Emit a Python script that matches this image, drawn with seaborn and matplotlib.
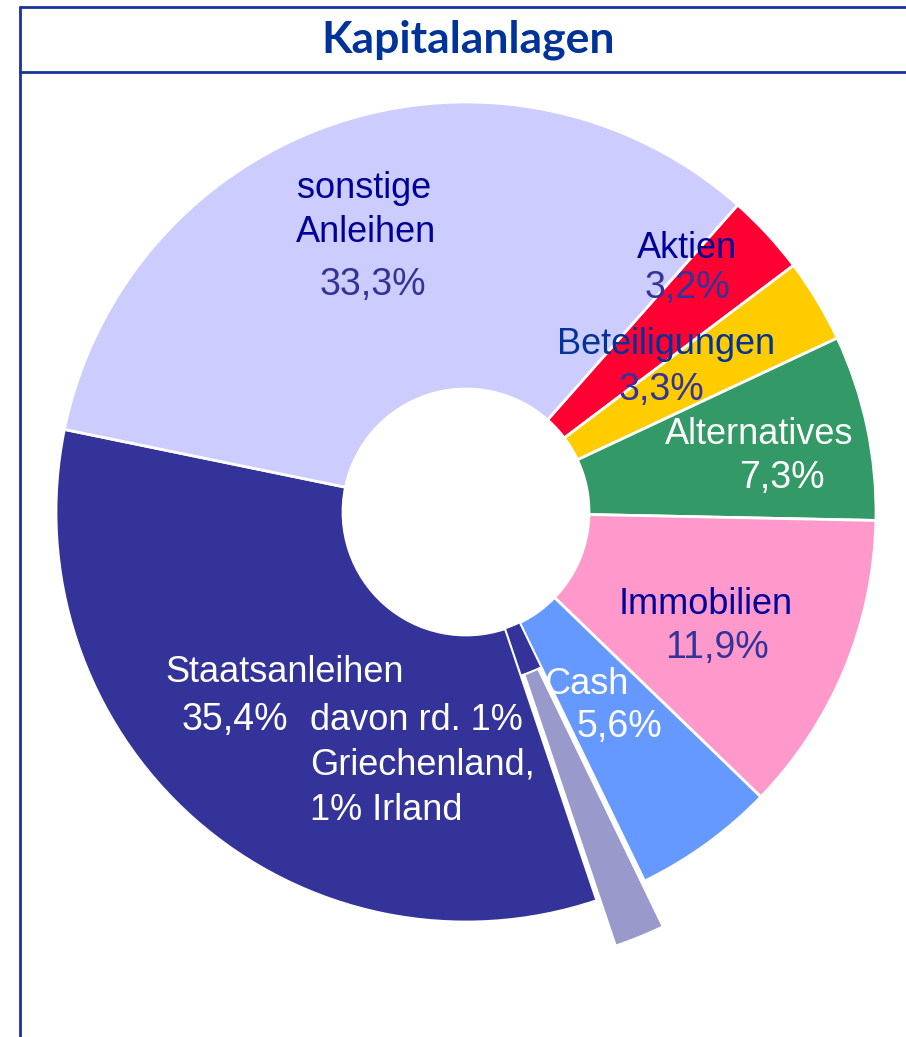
import matplotlib
matplotlib.use("Agg")
import matplotlib.pyplot as plt
from matplotlib.lines import Line2D
import seaborn as sns

# ---------------- data ----------------
categories = ["Aktien", "Beteiligungen", "Alternatives", "Immobilien", "Cash",
              "davon Griechenland/Irland", "Staatsanleihen", "sonstige Anleihen"]
shares = [3.2, 3.3, 7.3, 11.9, 5.6, 2.0, 33.4, 33.3]
pct_labels = ["3,2%", "3,3%", "7,3%", "11,9%", "5,6%", "", "35,4%", "33,3%"]
name_labels = ["Aktien", "Beteiligungen", "Alternatives", "Immobilien", "Cash",
               "", "Staatsanleihen", "sonstige\nAnleihen"]
note_lines = ["davon rd. 1%", "Griechenland,", "1% Irland"]
colors = ["#FF0033", "#FFCC00", "#339966", "#FF99CC", "#6699FF",
          "#9999CC", "#333399", "#CCCCFF"]
title = "Kapitalanlagen"

sns.set_theme(style="white")
plt.rcParams["font.family"] = ["Liberation Sans", "DejaVu Sans"]

W, H = 906, 1037
fig = plt.figure(figsize=(W / 100, H / 100), dpi=100)
fig.patch.set_facecolor("white")

# pie axes: centre at (466, 512) px from top-left, radius 410 px
cx, cy, R = 466, 512, 410
half = 440
ax = fig.add_axes([(cx - half) / W, (H - cy - half) / H, 2 * half / W, 2 * half / H])
lim = half / R

explode = [0.12 if c.startswith("davon") else 0 for c in categories]
wedges, _ = ax.pie(shares, colors=sns.color_palette(colors), startangle=48.5,
                   counterclock=False, explode=explode, radius=1.0,
                   wedgeprops=dict(width=0.70, edgecolor="white", linewidth=2))
for w in wedges:
    w.set_clip_on(False)
# inner dark sliver left behind by the exploded slice
inner_cols = [("#333399" if c.startswith("davon") else "none") for c in categories]
w2, _ = ax.pie(shares, colors=inner_cols, startangle=48.5, counterclock=False,
               radius=0.42, wedgeprops=dict(width=0.12, edgecolor="white", linewidth=1))
for i, w in enumerate(w2):
    if not categories[i].startswith("davon"):
        w.set_visible(False)
ax.set_xlim(-lim, lim)
ax.set_ylim(-lim, lim)
ax.set_aspect("equal")
ax.axis("off")


def P(px, py):
    return (px - cx) / R, (cy - py) / R


NAVY = "#000099"
PCT = "#333399"
pct_font = ["Liberation Sans Narrow", "Liberation Sans", "DejaVu Sans"]
lab_fs = 26
pct_fs = 27

# label positions (pixel centres) for name lines and percentage
name_pos = {"Aktien": [(687, 249)], "Beteiligungen": [(666, 345)],
            "Alternatives": [(759, 435)], "Immobilien": [(706, 605)],
            "Cash": [(586, 685)], "Staatsanleihen": [(285, 672)],
            "sonstige Anleihen": [(364, 188), (366, 233)]}
pct_pos = {"Aktien": (687, 288), "Beteiligungen": (661, 390), "Alternatives": (782, 478),
           "Immobilien": (717, 648), "Cash": (619, 727), "Staatsanleihen": (235, 720),
           "sonstige Anleihen": (373, 285)}
name_col = {"Aktien": NAVY, "Beteiligungen": "#003399", "Alternatives": "white",
            "Immobilien": NAVY, "Cash": "white", "Staatsanleihen": "white",
            "sonstige Anleihen": NAVY}
pct_col = {"Aktien": PCT, "Beteiligungen": PCT, "Alternatives": "white",
           "Immobilien": PCT, "Cash": "white", "Staatsanleihen": "white",
           "sonstige Anleihen": PCT}

for cat, nm, pc in zip(categories, name_labels, pct_labels):
    if cat not in name_pos:
        continue
    for line, pos in zip(nm.split("\n"), name_pos[cat]):
        ax.text(*P(*pos), line, ha="center", va="center", fontsize=lab_fs,
                color=name_col[cat])
    ax.text(*P(*pct_pos[cat]), pc, ha="center", va="center", fontsize=pct_fs,
            color=pct_col[cat], family=pct_font)

for i, line in enumerate(note_lines):
    ax.text(*P(310, 720 + i * 45), line, ha="left", va="center", fontsize=lab_fs,
            color="white")

# frame and title
LINE = "#1A3399"
fig.add_artist(Line2D([20 / W, 1], [1 - 7 / H, 1 - 7 / H], transform=fig.transFigure,
                      color=LINE, lw=2))
fig.add_artist(Line2D([20 / W, 1], [1 - 72 / H, 1 - 72 / H], transform=fig.transFigure,
                      color=LINE, lw=2))
fig.add_artist(Line2D([20 / W, 20 / W], [0, 1 - 7 / H], transform=fig.transFigure,
                      color=LINE, lw=2))
fig.text(468 / W, 1 - 40 / H, title, ha="center", va="center", fontsize=32,
         fontweight="bold", color="#003399", family=["Lato", "DejaVu Sans"])

fig.savefig("out.png", dpi=100)
